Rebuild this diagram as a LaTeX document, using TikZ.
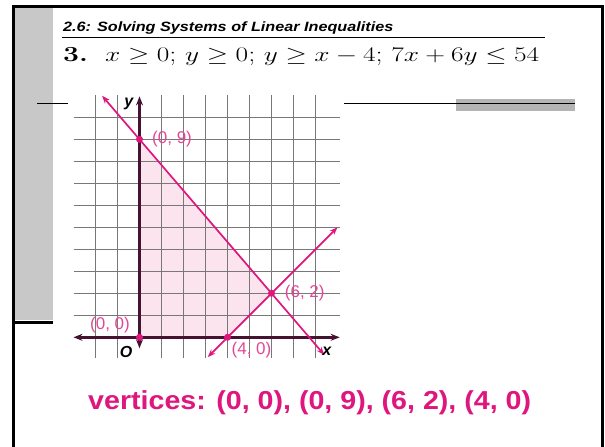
\documentclass[tikz,border=0pt]{standalone}
\usepackage{graphicx}
\usepackage{fontspec}
\setsansfont{Liberation Sans}
\usetikzlibrary{arrows.meta}
\definecolor{gridgray}{RGB}{120,120,120}
\definecolor{axisdark}{RGB}{70,18,50}
\definecolor{linemag}{RGB}{222,22,125}
\definecolor{labelmag}{RGB}{228,70,150}
\definecolor{regionpink}{RGB}{252,228,238}
\definecolor{bargray}{RGB}{200,200,200}
\definecolor{tabgray}{RGB}{180,180,180}

\begin{document}
\begin{tikzpicture}[x=1pt,y=-1pt]
\tikzset{
  frameline/.style={draw=black,line width=3pt},
  ruleline/.style={draw=black,line width=1pt},
  gridline/.style={draw=gridgray,line width=0.9pt},
  axisline/.style={draw=axisdark,line width=2.6pt,{Stealth[length=9pt,width=7pt]}-{Stealth[length=9pt,width=7pt]}},
  boundary/.style={draw=linemag,line width=1.7pt,{Stealth[length=8pt,width=6pt]}-{Stealth[length=8pt,width=6pt]}},
  vertexdot/.style={circle,fill=linemag,inner sep=0pt,minimum size=7pt},
  vertexlabel/.style={text=labelmag,font=\sffamily\fontsize{17}{19}\selectfont,inner sep=0pt},
  axislabel/.style={font=\sffamily\bfseries\itshape\fontsize{16}{18}\selectfont,inner sep=0pt},
  slidetext/.style={anchor=base west,inner sep=0pt}
}
\useasboundingbox (0,0) rectangle (605,447);
% slide frame
\fill[bargray] (15,7) rectangle (53,320);
\draw[frameline] (13.5,447) -- (13.5,6) -- (602.5,6) -- (602.5,447);
\draw[frameline] (15,322.5) -- (53,322.5);
\fill[tabgray] (456,99) rectangle (575,111);
\draw[ruleline] (37,103) -- (68,103);
\draw[ruleline] (344,103) -- (575,103);
% heading
\node[slidetext,font=\sffamily\bfseries\itshape\fontsize{13.5}{15}\selectfont] (title) at (63,31)
  {\scalebox{1.2}[1]{2.6: Solving Systems of Linear Inequalities}};
\draw[ruleline] (62,37.3) -- (545,37.3);
\node[slidetext,font=\fontsize{21.5}{24}\selectfont] (problem) at (63,61)
  {\scalebox{1.32}[1]{\textbf{3.}\ \ $x \geq 0$; $y \geq 0$; $y \geq x - 4$; $7x + 6y \leq 54$}};
% graph
\begin{scope}[shift={(139.5,337.3)},x=22pt,y=22pt]
\fill[regionpink] (0,0) -- (0,9) -- (6,2) -- (4,0) -- cycle;
\foreach \gx in {-2,-1,1,2,3,4,5,6,7,8}
  \draw[gridline] (\gx,-0.95) -- (\gx,11);
\foreach \gy in {1,...,10}
  \draw[gridline] (-3,\gy) -- (9.1,\gy);
\draw[axisline] (-3,0) -- (9.1,0);
\draw[axisline] (0,-0.5) -- (0,10.95);
\coordinate (v_00) at (0,0);
\coordinate (v_09) at (0,9);
\coordinate (v_62) at (6,2);
\coordinate (v_40) at (4,0);
\draw[boundary] (-1.7,10.98) -- (8.4,-0.8);
\draw[boundary] (3.1,-0.9) -- (9,5);
\node[vertexdot] at (v_00) {};
\node[vertexdot] at (v_09) {};
\node[vertexdot] at (v_62) {};
\node[vertexdot] at (v_40) {};
\node[vertexlabel,anchor=west] (l_09) at (0.57,9) {(0, 9)};
\node[vertexlabel,anchor=west] (l_62) at (6.6,2) {(6, 2)};
\node[vertexlabel] (l_40) at (5.09,-0.58) {(4, 0)};
\node[vertexlabel] (l_00) at (-1.34,0.56) {(0, 0)};
\node[axislabel] (l_y) at (-0.48,10.6) {y};
\node[axislabel] (l_x) at (8.52,-0.62) {x};
\node[axislabel] (l_o) at (-0.61,-0.65) {O};
\end{scope}
% answer
\node[slidetext,text=linemag,font=\sffamily\bfseries\fontsize{26}{30}\selectfont] (answer) at (88,409)
  {\scalebox{1.1}[1]{vertices: (0, 0), (0, 9), (6, 2), (4, 0)}};
\end{tikzpicture}
\end{document}
